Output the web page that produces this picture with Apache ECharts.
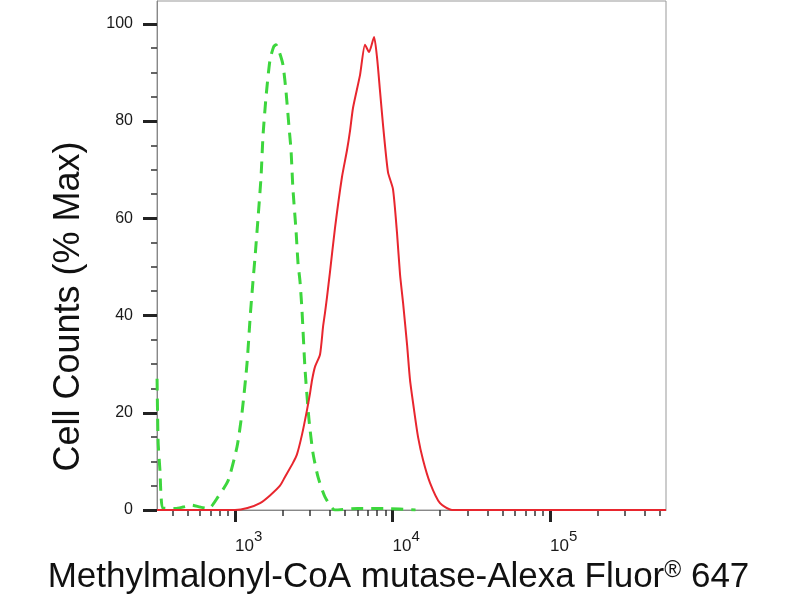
<!DOCTYPE html>
<html>
<head>
<meta charset="utf-8">
<script src="https://cdn.jsdelivr.net/npm/echarts@6/dist/echarts.min.js"></script>
<style>html,body{margin:0;padding:0;background:#fff}#c{width:800px;height:600px}</style>
</head>
<body>
<div id="c"></div>
<script>
// Isotype control (green dashed)
const isotypeIntensity = [320, 325, 334, 339, 349, 420, 468, 530, 600, 680, 780, 903, 1030, 1108, 1191, 1250, 1300, 1340, 1400, 1463, 1506, 1574, 1668, 1760, 1820, 1920, 2018, 2109, 2200, 2268, 2333, 2439, 2512, 2587, 2663, 2783, 2951, 3127, 3365, 3725, 4313, 6000, 9000, 14000];
const isotypeCounts    = [27, 14, 8, 3, 0.4, 0.3, 0.6, 1, 0.6, 0.3, 2.7, 6, 13, 20, 30, 40, 47, 52, 60, 68.5, 77, 85, 92.6, 95.3, 95.7, 94, 91.5, 86, 79, 74, 66, 57.6, 50.8, 47, 41, 29, 18.5, 11.7, 6.8, 2.7, 0, 0.3, 0.3, 0];
// Methylmalonyl-CoA mutase antibody (red solid)
const antibodyIntensity = [320, 1000, 1200, 1442, 1668, 1931, 2076, 2333, 2477, 2663, 2866, 2994, 3083, 3222, 3466, 3623, 3725, 3838, 4010, 4313, 4777, 5140, 5373, 5612, 6222, 6688, 7096, 7638, 7980, 8340, 8716, 9360, 10070, 10680, 11160, 11670, 12370, 12920, 13700, 14530, 15630, 17300, 20030, 23880, 545000];
const antibodyCounts    = [0, 0, 0.4, 1.4, 3, 5, 6.8, 9.7, 11.5, 15.5, 20.6, 24, 26.7, 29.5, 32, 37.7, 40.5, 43.8, 49, 58, 68.5, 74, 78, 82.7, 89.5, 95.7, 94.2, 97.3, 93, 86, 79, 69.5, 66, 57, 48.5, 42.6, 34, 26.7, 20.6, 15, 10.3, 5.6, 1.4, 0, 0];
// Axis ticks
const xMajorTicks = [1000, 10000, 100000];
const xMinorTicks = [400, 500, 600, 700, 800, 900, 2000, 3000, 4000, 5000, 6000, 7000, 8000, 9000, 20000, 30000, 40000, 50000, 60000, 70000, 80000, 90000, 200000, 300000, 400000, 500000];
const yMajorTicks = [0, 20, 40, 60, 80, 100];
const yMinorTicks = [5, 10, 15, 25, 30, 35, 45, 50, 55, 65, 70, 75, 85, 90, 95];
const xTitle = 'Methylmalonyl-CoA mutase-Alexa Fluor{r|®} 647';
const yTitle = 'Cell Counts (% Max)';

const zip = (a, b) => a.map((v, i) => [v, b[i]]);
const X_MIN = 319.7, X_MAX = 545000, Y_MAX = 104.7;
const FONT = 'Liberation Sans, Arial, sans-serif';

const chart = echarts.init(document.getElementById('c'));
chart.setOption({
  animation: false,
  backgroundColor: '#fff',
  grid: { left: 157, right: 134, top: 1, bottom: 90, show: true, borderColor: '#999', borderWidth: 1, containLabel: false },
  xAxis: [{
    type: 'log', logBase: 10, min: X_MIN, max: X_MAX, position: 'bottom',
    name: xTitle, nameLocation: 'middle', nameGap: 43,
    nameTextStyle: { fontFamily: FONT, fontSize: 35, color: '#111', padding: [0, 26, 0, 0],
      rich: { r: { fontFamily: FONT, fontSize: 23, verticalAlign: 'top', lineHeight: 23, color: '#111' } } },
    axisLine: { show: true, lineStyle: { color: '#888', width: 1 } },
    axisTick: { show: true, customValues: xMajorTicks, length: 12, lineStyle: { color: '#222', width: 3 } },
    axisLabel: {
      show: true, customValues: xMajorTicks, align: 'left', margin: 19,
      formatter: v => '{b|10}{s|' + Math.round(Math.log10(v)) + '}',
      rich: {
        b: { fontFamily: FONT, fontSize: 17, lineHeight: 34, color: '#1a1a1a' },
        s: { fontFamily: FONT, fontSize: 15, lineHeight: 15, verticalAlign: 'top', color: '#1a1a1a' }
      }
    },
    splitLine: { show: false }, minorTick: { show: false }, minorSplitLine: { show: false }
  }, {
    type: 'log', logBase: 10, min: X_MIN, max: X_MAX, position: 'bottom', offset: 0,
    axisLine: { show: false },
    axisTick: { show: true, customValues: xMinorTicks, length: 6, lineStyle: { color: '#333', width: 1.5 } },
    axisLabel: { show: false }, splitLine: { show: false }
  }],
  yAxis: [{
    type: 'value', min: 0, max: Y_MAX, position: 'left',
    name: yTitle, nameLocation: 'middle', nameGap: 70, nameRotate: 90,
    nameTextStyle: { fontFamily: FONT, fontSize: 36, color: '#111', padding: [0, 102, 0, 0] },
    axisLine: { show: true, lineStyle: { color: '#888', width: 1 } },
    axisTick: { show: true, customValues: yMajorTicks, length: 14, lineStyle: { color: '#222', width: 3 } },
    axisLabel: { show: true, customValues: yMajorTicks, margin: 24, fontFamily: FONT, fontSize: 16, color: '#1a1a1a' },
    splitLine: { show: false }
  }, {
    type: 'value', min: 0, max: Y_MAX, position: 'left', offset: 0,
    axisLine: { show: false },
    axisTick: { show: true, customValues: yMinorTicks, length: 6, lineStyle: { color: '#333', width: 1.5 } },
    axisLabel: { show: false }, splitLine: { show: false }
  }],
  series: [{
    name: 'Isotype', type: 'line', xAxisIndex: 0, yAxisIndex: 0,
    data: zip(isotypeIntensity, isotypeCounts), showSymbol: false, smooth: 0.2,
    lineStyle: { color: '#3dd63d', width: 3, type: [12, 8] }, z: 2
  }, {
    name: 'Methylmalonyl-CoA mutase', type: 'line', xAxisIndex: 0, yAxisIndex: 0,
    data: zip(antibodyIntensity, antibodyCounts), showSymbol: false, smooth: 0.2,
    lineStyle: { color: '#e8262e', width: 2 }, z: 3
  }]
});
</script>
</body>
</html>
